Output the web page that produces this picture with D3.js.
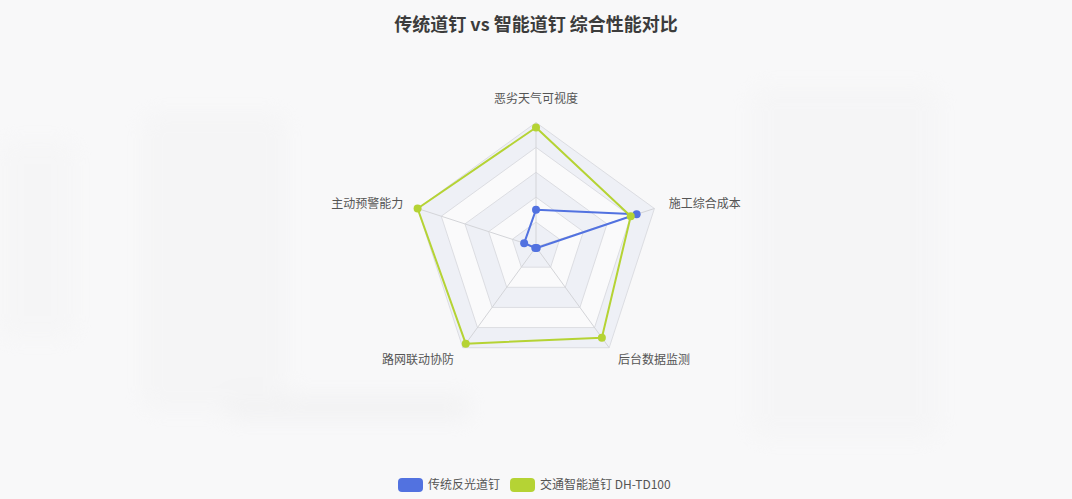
<!DOCTYPE html>
<html>
<head>
<meta charset="utf-8">
<script src="https://cdn.jsdelivr.net/npm/d3@7"></script>
<style>
  html, body { margin: 0; padding: 0; background: #f8f8f9; }
  svg { display: block; font-family: "Noto Sans CJK SC", "Noto Sans", sans-serif; }
</style>
</head>
<body>
<div id="chart"></div>
<script>
// axes, clockwise from the top
var indicators = ["恶劣天气可视度", "施工综合成本", "后台数据监测", "路网联动协防", "主动预警能力"];
var seriesNames = ["传统反光道钉", "交通智能道钉 DH-TD100"];
var traditional = [30, 85, 1, 1, 10];
var smart = [96, 80, 90, 96, 100];
var maxValue = 100;
var ringSteps = [20, 40, 60, 80, 100];

var w = 1072, h = 499;
var cx = 536, cy = 247, radius = 124.5;
var colors = ["#5272e0", "#b5d334"];

var svg = d3.select("#chart")
    .append("svg")
    .attr("width", w)
    .attr("height", h);

// faint blurred page behind the chart
var defs = svg.append("defs");
defs.append("filter").attr("id", "blur")
    .attr("x", "-20%").attr("y", "-20%").attr("width", "140%").attr("height", "140%")
    .append("feGaussianBlur").attr("stdDeviation", 10);
var bg = svg.append("g").attr("filter", "url(#blur)").attr("opacity", 0.35);
bg.append("rect").attr("x", 142).attr("y", 112).attr("width", 145).attr("height", 300).attr("rx", 12).attr("fill", "#f0f0f1");
bg.append("rect").attr("x", 750).attr("y", 85).attr("width", 190).attr("height", 355).attr("rx", 14).attr("fill", "#f1f1f2");
bg.append("rect").attr("x", 225).attr("y", 395).attr("width", 245).attr("height", 25).attr("rx", 10).attr("fill", "#e8e8e9");
bg.append("rect").attr("x", 0).attr("y", 140).attr("width", 75).attr("height", 200).attr("rx", 10).attr("fill", "#f2f2f3");

var r = d3.scaleLinear().domain([0, maxValue]).range([0, radius]);
var angle = d3.scaleLinear().domain([0, indicators.length]).range([0, 2 * Math.PI]);

var g = svg.append("g").attr("transform", "translate(" + cx + "," + cy + ")");

function ringPoints(v) {
    return indicators.map(function(d, i) { return d3.pointRadial(angle(i), r(v)); });
}

// split areas, outermost first so inner ones cover them
var areaColors = ["#eef0f6", "#fafafb"];
ringSteps.slice().reverse().forEach(function(v) {
    var idx = ringSteps.indexOf(v);
    g.append("polygon")
        .attr("points", ringPoints(v).map(function(p) { return p.join(","); }).join(" "))
        .attr("fill", areaColors[idx % 2]);
});

// split lines
ringSteps.forEach(function(v) {
    g.append("polygon")
        .attr("points", ringPoints(v).map(function(p) { return p.join(","); }).join(" "))
        .attr("fill", "none")
        .attr("stroke", "#dcdde2")
        .attr("stroke-width", 1);
});

// axis lines
indicators.forEach(function(d, i) {
    var p = d3.pointRadial(angle(i), r(maxValue));
    g.append("line")
        .attr("x1", 0).attr("y1", 0)
        .attr("x2", p[0]).attr("y2", p[1])
        .attr("stroke", "#d3d4d8")
        .attr("stroke-width", 1);
});

// indicator names
indicators.forEach(function(d, i) {
    var a = angle(i);
    var p = d3.pointRadial(a, r(maxValue) + 15);
    var sx = Math.sin(a);
    var anchor = Math.abs(sx) < 0.01 ? "middle" : (sx > 0 ? "start" : "end");
    var t = g.append("text")
        .attr("x", p[0])
        .attr("y", p[1])
        .attr("text-anchor", anchor)
        .attr("font-size", 12)
        .attr("fill", "#555")
        .text(d);
    if (Math.abs(sx) < 0.01) t.attr("dy", "-0.35em");
    else t.attr("dy", "0.35em");
});

// series
var radarLine = d3.lineRadial()
    .angle(function(d, i) { return angle(i); })
    .radius(function(d) { return r(d); })
    .curve(d3.curveLinearClosed);

[traditional, smart].forEach(function(values, k) {
    var s = g.append("g");
    s.append("path")
        .attr("d", radarLine(values))
        .attr("fill", "none")
        .attr("stroke", colors[k])
        .attr("stroke-width", 2)
        .attr("stroke-linejoin", "round");
    s.selectAll("circle")
        .data(values)
        .enter().append("circle")
        .attr("cx", function(d, i) { return d3.pointRadial(angle(i), r(d))[0]; })
        .attr("cy", function(d, i) { return d3.pointRadial(angle(i), r(d))[1]; })
        .attr("r", 4)
        .attr("fill", colors[k]);
});

// title
svg.append("text")
    .attr("x", w / 2)
    .attr("y", 31)
    .attr("text-anchor", "middle")
    .attr("font-size", 18)
    .attr("font-weight", "bold")
    .attr("fill", "#3c3c3c")
    .text("传统道钉 vs 智能道钉 综合性能对比");

// legend
var legend = svg.append("g").attr("transform", "translate(398,478)");
var lx = 0;
seriesNames.forEach(function(name, k) {
    var item = legend.append("g").attr("transform", "translate(" + lx + ",0)");
    item.append("rect")
        .attr("width", 25).attr("height", 14)
        .attr("rx", 4)
        .attr("fill", colors[k]);
    var t = item.append("text")
        .attr("x", 30)
        .attr("y", 7)
        .attr("dy", "0.35em")
        .attr("font-size", 12)
        .attr("fill", "#555")
        .text(name);
    lx += 30 + t.node().getComputedTextLength() + 10;
});
</script>
</body>
</html>
